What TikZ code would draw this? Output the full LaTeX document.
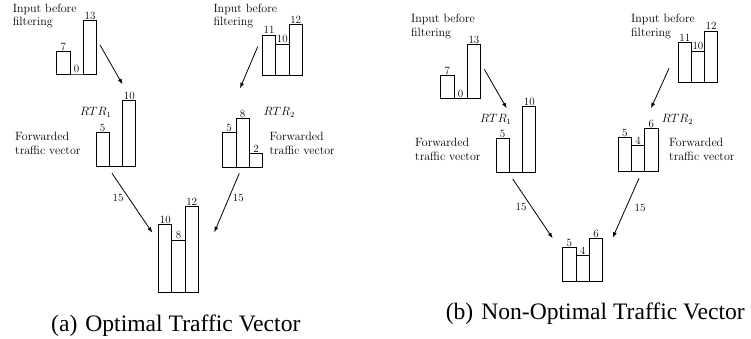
\documentclass[tikz,border=0pt]{standalone}
\usepackage{fontspec}
\newfontfamily\capfont{Liberation Serif}
\usetikzlibrary{arrows.meta}
\tikzset{
  barline/.style={draw=black,line width=0.9pt},
  numlbl/.style={anchor=south,inner sep=0.8pt,font=\fontsize{11}{13}\selectfont},
  txt/.style={anchor=base west,inner sep=0pt,font=\fontsize{12}{13.7}\selectfont},
  flow/.style={anchor=center,inner sep=0pt,font=\fontsize{11}{13}\selectfont},
  arr/.style={draw=black,line width=0.8pt,-{Latex[length=5.5pt,width=4pt]}},
  captxt/.style={inner sep=0pt,font=\capfont\fontsize{23.6}{26}\selectfont}
}
% name, x1, x2, base, top, label
\newcommand\tbar[6]{%
  \draw[barline] (#2,#4) rectangle (#3,#5);
  \node[numlbl] (#1) at ({(#2+#3)/2},#5) {#6};
}
\newcommand\twoline[2]{\begin{tabular}[t]{@{}l@{}}#1\\#2\end{tabular}}
\begin{document}
\begin{tikzpicture}[x=1pt,y=-1pt]
\useasboundingbox (0,0) rectangle (751,339);
% ===== (a) =====
% input left
\tbar{aL1}{56.7}{70}{74}{51.7}{7}
\tbar{aL2}{70}{83.3}{74}{74}{0}
\tbar{aL3}{83.3}{96.7}{74}{20.3}{13}
\node[txt] (aLin) at (12.7,12.3) {\twoline{Input before}{filtering}};
% RTR1
\tbar{aR1a}{96}{109.3}{166.7}{132.3}{5}
\draw[barline] (109.3,166.7) -- (122.7,166.7);
\tbar{aR1c}{122.7}{135.9}{166.7}{100.3}{10}
\node[txt] (aR1lab) at (80,115.7) {$RTR_1$};
\node[txt] (aR1fw) at (15,141) {\twoline{Forwarded}{traffic vector}};
% input right
\tbar{aRi1}{262.3}{275.7}{75.7}{35}{11}
\tbar{aRi2}{275.7}{289}{75.7}{44}{10}
\tbar{aRi3}{289}{302.3}{75.7}{24.3}{12}
\node[txt] (aRin) at (213.3,12.3) {\twoline{Input before}{filtering}};
% RTR2
\tbar{aR2a}{222.3}{236}{167.3}{132.7}{5}
\tbar{aR2b}{236}{249.3}{167.3}{118.3}{8}
\tbar{aR2c}{249.3}{262.7}{167.3}{153.3}{2}
\node[txt] (aR2lab) at (263.3,116) {$RTR_2$};
\node[txt] (aR2fw) at (269.3,141) {\twoline{Forwarded}{traffic vector}};
% output
\tbar{aO1}{158.7}{171.9}{292.3}{224.3}{10}
\tbar{aO2}{171.9}{185.1}{292.3}{240}{8}
\tbar{aO3}{185.1}{198.3}{292.3}{206.7}{12}
% arrows (a)
\coordinate (aA1s) at (100,45);     \coordinate (aA1e) at (122.5,84.3);
\coordinate (aA2s) at (257.7,46.7); \coordinate (aA2e) at (240,88.3);
\coordinate (aA3s) at (112,173.3);  \coordinate (aA3e) at (152.3,232.7);
\coordinate (aA4s) at (239.3,173.3);\coordinate (aA4e) at (214.3,232.3);
\draw[arr] (aA1s) -- (aA1e);
\draw[arr] (aA2s) -- (aA2e);
\draw[arr] (aA3s) -- (aA3e);
\draw[arr] (aA4s) -- (aA4e);
\node[flow] (aF1) at (118,198.3) {15};
\node[flow] (aF2) at (238.3,198.3) {15};
\node[captxt,anchor=base west] (capA) at (51,331.7) {(a)\hspace{8pt}Optimal Traffic Vector};
% ===== (b) =====
\tbar{bL1}{440.7}{454}{98.3}{75.7}{7}
\tbar{bL2}{454}{467.3}{98.3}{98.3}{0}
\tbar{bL3}{467.3}{480.5}{98.3}{44.3}{13}
\node[txt] (bLin) at (411,22.7) {\twoline{Input before}{filtering}};
\tbar{bR1a}{496}{509.3}{172.3}{138.3}{5}
\draw[barline] (509.3,172.3) -- (522.7,172.3);
\tbar{bR1c}{522.7}{535.9}{172.3}{106.7}{10}
\node[txt] (bR1lab) at (480,122.3) {$RTR_1$};
\node[txt] (bR1fw) at (415,146.7) {\twoline{Forwarded}{traffic vector}};
\tbar{bRi1}{678.3}{691.3}{82.3}{42.3}{11}
\tbar{bRi2}{691.3}{704.5}{82.3}{51}{10}
\tbar{bRi3}{704.5}{717.7}{82.3}{31}{12}
\node[txt] (bRin) at (631,22.7) {\twoline{Input before}{filtering}};
\tbar{bR2a}{618.3}{631.5}{171.7}{137.3}{5}
\tbar{bR2b}{631.5}{644.8}{171.7}{145.7}{4}
\tbar{bR2c}{644.8}{658}{171.7}{128.3}{6}
\node[txt] (bR2lab) at (661.7,122.3) {$RTR_2$};
\node[txt] (bR2fw) at (669,146.7) {\twoline{Forwarded}{traffic vector}};
\tbar{bO1}{562.7}{576}{281}{247.7}{5}
\tbar{bO2}{576}{589.3}{281}{255.7}{4}
\tbar{bO3}{589.3}{602.7}{281}{238.3}{6}
\coordinate (bA1s) at (484.3,69.3); \coordinate (bA1e) at (506.7,108.3);
\coordinate (bA2s) at (669,68.3);   \coordinate (bA2e) at (651,108.3);
\coordinate (bA3s) at (512.7,179);  \coordinate (bA3e) at (552.7,238.3);
\coordinate (bA4s) at (639,178.3);  \coordinate (bA4e) at (612.7,237.7);
\draw[arr] (bA1s) -- (bA1e);
\draw[arr] (bA2s) -- (bA2e);
\draw[arr] (bA3s) -- (bA3e);
\draw[arr] (bA4s) -- (bA4e);
\node[flow] (bF1) at (521,207) {15};
\node[flow] (bF2) at (640,208.3) {15};
\node[captxt,anchor=base east] (capB) at (745,319.5) {(b)\hspace{8pt}Non-Optimal Traffic Vector};
\end{tikzpicture}
\end{document}
